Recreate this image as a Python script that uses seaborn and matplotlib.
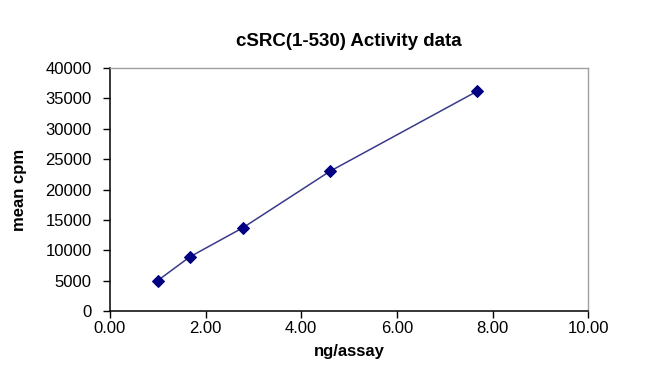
import matplotlib
matplotlib.use('Agg')
import matplotlib.pyplot as plt
import seaborn as sns
import pandas as pd
from matplotlib.ticker import FormatStrFormatter

ng_per_assay = [1.00, 1.67, 2.78, 4.60, 7.68]
mean_cpm = [5000, 8900, 13700, 23000, 36200]

sns.set_style('white')
plt.rcParams['font.family'] = ['Liberation Sans', 'DejaVu Sans']
plt.rcParams['text.color'] = 'black'
plt.rcParams['axes.labelcolor'] = 'black'
plt.rcParams['xtick.color'] = 'black'
plt.rcParams['ytick.color'] = 'black'

df = pd.DataFrame({'ng/assay': ng_per_assay, 'mean cpm': mean_cpm})

fig = plt.figure(figsize=(6.5, 3.68), dpi=100)
ax = fig.add_axes([0.169, 0.155, 0.736, 0.66])

sns.lineplot(data=df, x='ng/assay', y='mean cpm', ax=ax, color='#3a3a8c',
             linewidth=1.1, marker='D', markersize=6, markerfacecolor='#000080',
             markeredgecolor='#000080')

ax.set_xlim(0, 10)
ax.set_ylim(0, 40000)
ax.set_xticks([0, 2, 4, 6, 8, 10])
ax.set_yticks(range(0, 40001, 5000))
ax.xaxis.set_major_formatter(FormatStrFormatter('%.2f'))
ax.tick_params(axis='both', direction='out', length=5, width=1, color='black',
               labelsize=12, bottom=True, left=True)
ax.tick_params(axis='y', pad=8)
ax.tick_params(axis='x', pad=2)

for side in ('left', 'bottom'):
    ax.spines[side].set_color('black')
    ax.spines[side].set_linewidth(1.1)
for side in ('top', 'right'):
    ax.spines[side].set_color('#a0a0a0')
    ax.spines[side].set_linewidth(1.0)

ax.set_xlabel('ng/assay', fontsize=12, fontweight='bold', labelpad=6)
ax.set_ylabel('mean cpm', fontsize=12, fontweight='bold', labelpad=13)
ax.set_title('cSRC(1-530) Activity data', fontsize=13.5, fontweight='bold', pad=16)

fig.savefig('out.png', dpi=100)
